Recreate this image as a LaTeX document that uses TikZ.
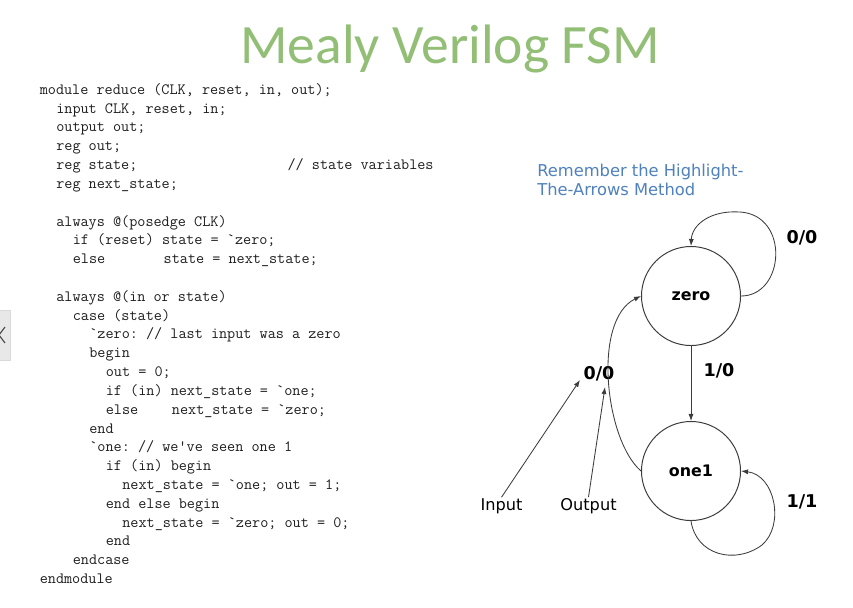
\documentclass[tikz,border=0pt]{standalone}
\usepackage{fontspec}
\newfontfamily\titlefont{Carlito}
\newfontfamily\notefont{DejaVu Sans}
\usetikzlibrary{arrows.meta}
\definecolor{titlegreen}{RGB}{146,190,118}
\definecolor{noteblue}{RGB}{79,129,189}
\definecolor{codegray}{RGB}{30,30,30}
\definecolor{linegray}{RGB}{60,60,60}
\tikzset{
    state/.style = {circle, draw=linegray, line width=0.7pt, minimum size=2.475cm, inner sep=0pt,
        font=\notefont\bfseries\fontsize{11.3}{13}\selectfont},
    edgelbl/.style = {inner sep=0pt, font=\notefont\bfseries\fontsize{12.5}{14}\selectfont},
    codeline/.style = {anchor=base west, inner sep=0pt, text=codegray,
        font=\ttfamily\fontsize{11.2}{13}\selectfont\frenchspacing},
    notetext/.style = {anchor=base west, inner sep=0pt, text=noteblue,
        font=\notefont\fontsize{11.6}{13}\selectfont},
    pinlbl/.style = {anchor=base, inner sep=1pt, font=\notefont\fontsize{11.5}{13}\selectfont},
    flow/.style = {-{Latex[length=5pt,width=3.6pt]}, draw=linegray, line width=0.6pt}
}

\begin{document}
\begin{tikzpicture}[x=0.025cm, y=-0.025cm]
    \useasboundingbox (0,0) rectangle (853,607);
    \fill [white] (0,0) rectangle (853,607);

    % side tab
    \draw [fill=gray!18, draw=gray!30] (-2,310) rectangle (10,360);
    \draw [gray!60!black, line width=0.8pt] (5,327) -- (-1,335) -- (5,343);

    \node[anchor=base, text=titlegreen, font=\titlefont\fontsize{39.5}{42}\selectfont] (title) at (450,63.3) {Mealy Verilog FSM};

    % verilog listing: column/row/text
    \foreach \c/\r/\t in {0/0/{module reduce (CLK, reset, in, out);},
        2/1/{input CLK, reset, in;}, 2/2/{output out;}, 2/3/{reg out;},
        2/4/{reg state;}, 30/4/{// state variables}, 2/5/{reg next\_state;},
        2/7/{always @(posedge CLK)}, 4/8/{if (reset) state = `zero;},
        4/9/{else}, 15/9/{state = next\_state;},
        2/11/{always @(in or state)}, 4/12/{case (state)},
        6/13/{`zero: // last input was a zero}, 6/14/{begin},
        8/15/{out = 0;}, 8/16/{if (in) next\_state = `one;},
        8/17/{else}, 16/17/{next\_state = `zero;}, 6/18/{end},
        6/19/{`one: // we've seen one 1}, 8/20/{if (in) begin},
        10/21/{next\_state = `one; out = 1;}, 8/22/{end else begin},
        10/23/{next\_state = `zero; out = 0;}, 8/24/{end},
        4/25/{endcase}, 0/26/{endmodule}}
        \node[codeline] (code-\r-\c) at ({39.5+8.26*\c},{94.3+18.82*\r}) {\t};

    \node[notetext] (note1) at (537,176.7) {Remember the Highlight-};
    \node[notetext] (note2) at (537,195) {The-Arrows Method};

    % states
    \node[state] (zero) at (691,296) {zero};
    \node[state] (one1) at (691,471) {one1};

    \node[edgelbl] (lzz) at (802,238) {0/0};
    \node[edgelbl] (lzo) at (719,371) {1/0};
    \node[edgelbl] (loz) at (599,374) {0/0};
    \node[edgelbl] (loo) at (802,502) {1/1};

    \draw [flow] (zero) -- (one1);
    \draw [flow] (zero.east) .. controls (785,296) and (790,215) .. (740,212)
        .. controls (710,210) and (692,225) .. (zero.north);
    \draw [flow] (one1.south) .. controls (696,555) and (735,565) .. (762,545)
        .. controls (785,525) and (775,475) .. (one1.east);
    \draw [flow] (one1.west) .. controls (605,440) and (592,320) .. (zero.west);

    % pointers to the label
    \node[pinlbl] (inp) at (501.5,510.7) {Input};
    \node[pinlbl] (outp) at (588.5,510.7) {Output};
    \coordinate (inEnd) at (580,380);
    \coordinate (outEnd) at (605,387);
    \draw [flow] (inp.north) -- (inEnd);
    \draw [flow] (outp.north) -- (outEnd);

\end{tikzpicture}
\end{document}
